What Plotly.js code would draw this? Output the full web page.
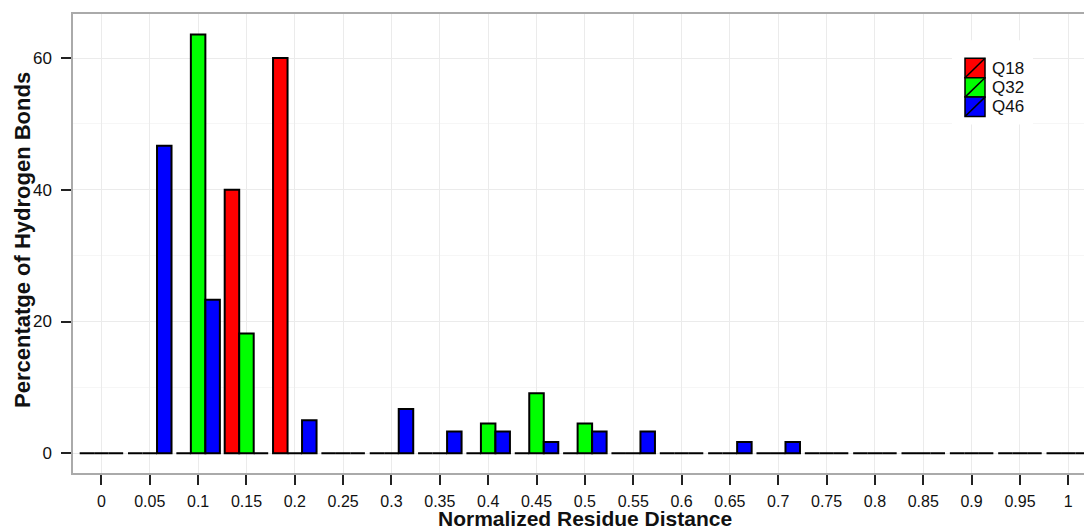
<!DOCTYPE html>
<html>
<head>
<meta charset="utf-8">
<script src="https://cdn.plot.ly/plotly-3.0.1.min.js"></script>
<style>
  html, body { margin: 0; padding: 0; background: #ffffff; }
  #chart { width: 1084px; height: 531px; }
</style>
</head>
<body>
<div id="chart"></div>
<script>
// Categories (normalized residue distance)
const categories = ['0','0.05','0.1','0.15','0.2','0.25','0.3','0.35','0.4','0.45','0.5',
                    '0.55','0.6','0.65','0.7','0.75','0.8','0.85','0.9','0.95','1'];
// Percentage of hydrogen bonds per series
const q18 = [0, 0, 0, 40, 60, 0, 0, 0, 0, 0, 0, 0, 0, 0, 0, 0, 0, 0, 0, 0, 0];
const q32 = [0, 0, 63.6, 18.2, 0, 0, 0, 0, 4.5, 9.1, 4.5, 0, 0, 0, 0, 0, 0, 0, 0, 0, 0];
const q46 = [0, 46.7, 23.3, 0, 5.0, 0, 6.7, 3.3, 3.3, 1.7, 3.3, 3.3, 0, 1.7, 1.7, 0, 0, 0, 0, 0, 0];
const seriesNames = ['Q18', 'Q32', 'Q46'];
const yTicks = [0, 20, 40, 60];
const xTitle = 'Normalized Residue Distance';
const yTitle = 'Percentatge of Hydrogen Bonds';

const colors = ['#ff0000', '#00ff00', '#0000ff'];
const seriesValues = [q18, q32, q46];

const traces = seriesValues.map((vals, i) => ({
  type: 'bar',
  name: seriesNames[i],
  x: categories,
  y: vals,
  marker: { color: colors[i], line: { color: '#000000', width: 2 } },
  showlegend: false,
  hoverinfo: 'x+y+name'
}));

const font = 'Liberation Sans, Arial, Helvetica, sans-serif';

// ---- page geometry (pixels) ----
const W = 1084, H = 531;
const M = { l: 73, r: 0, t: 14, b: 58 };
const plotW = W - M.l - M.r, plotH = H - M.t - M.b;
const px = v => (v - M.l) / plotW;        // pixel x -> paper x
const py = v => 1 - (v - M.t) / plotH;    // pixel y -> paper y

const shapes = [];
const annotations = [];

// ---- axis titles ----
annotations.push({
  xref: 'paper', yref: 'paper', x: px(585), y: py(531), xanchor: 'center', yanchor: 'bottom',
  showarrow: false, text: '<b>' + xTitle + '</b>', borderpad: 0,
  font: { family: font, size: 21, color: '#111111' }
});
annotations.push({
  xref: 'paper', yref: 'paper', x: px(23), y: py(240), xanchor: 'center', yanchor: 'middle',
  showarrow: false, textangle: -90, text: '<b>' + yTitle + '</b>',
  font: { family: font, size: 22, color: '#111111' }
});

// ---- hand-built legend (ggplot style key with diagonal) ----
const legend = { x: 965, y: 58.3, keyW: 20, keyH: 19.4, textGap: 5, boxPad: [13, 18, 48, 8] };
shapes.push({
  type: 'rect', xref: 'paper', yref: 'paper', layer: 'above',
  x0: px(legend.x - legend.boxPad[0]), x1: px(legend.x + legend.keyW + legend.boxPad[2]),
  y0: py(legend.y - legend.boxPad[1]), y1: py(legend.y + seriesNames.length * legend.keyH + legend.boxPad[3]),
  fillcolor: '#ffffff', line: { width: 0 }
});
seriesNames.forEach((name, i) => {
  const top = legend.y + i * legend.keyH, bot = top + legend.keyH;
  shapes.push({
    type: 'rect', xref: 'paper', yref: 'paper', layer: 'above',
    x0: px(legend.x), x1: px(legend.x + legend.keyW), y0: py(bot), y1: py(top),
    fillcolor: colors[i], line: { color: '#000000', width: 1.5 }
  });
  shapes.push({
    type: 'line', xref: 'paper', yref: 'paper', layer: 'above',
    x0: px(legend.x), x1: px(legend.x + legend.keyW), y0: py(bot), y1: py(top),
    line: { color: '#000000', width: 1.5 }
  });
  annotations.push({
    xref: 'paper', yref: 'paper', x: px(legend.x + legend.keyW + legend.textGap), y: py((top + bot) / 2),
    xanchor: 'left', yanchor: 'middle', showarrow: false, text: name,
    font: { family: font, size: 17, color: '#111111' }
  });
});

const layout = {
  width: W,
  height: H,
  margin: { l: M.l, r: M.r, t: M.t, b: M.b, pad: 0 },
  paper_bgcolor: '#ffffff',
  plot_bgcolor: '#ffffff',
  barmode: 'group',
  bargap: 0.1,
  bargroupgap: 0,
  font: { family: font, color: '#111111', size: 16 },
  showlegend: false,
  shapes: shapes,
  annotations: annotations,
  xaxis: {
    type: 'category',
    range: [-0.588, 20.325],
    showgrid: true,
    gridcolor: '#ebebeb',
    gridwidth: 1,
    zeroline: false,
    showline: true,
    mirror: true,
    linecolor: '#aaaaaa',
    linewidth: 1.5,
    ticks: 'outside',
    ticklen: 10,
    tickwidth: 2,
    tickcolor: '#222222',
    ticklabelstandoff: 3,
    tickfont: { family: font, size: 16, color: '#111111' },
    automargin: false,
    fixedrange: true
  },
  yaxis: {
    range: [-3.0, 66.7],
    tickvals: yTicks,
    ticktext: yTicks.map(String),
    showgrid: true,
    gridcolor: '#ebebeb',
    gridwidth: 1,
    minor: { tickvals: [10, 30, 50], showgrid: true, gridcolor: '#f6f6f6', gridwidth: 1, ticks: '' },
    zeroline: false,
    showline: true,
    mirror: false,
    linecolor: '#aaaaaa',
    linewidth: 1.5,
    ticks: 'outside',
    ticklen: 10,
    tickwidth: 2,
    tickcolor: '#222222',
    ticklabelstandoff: 6,
    tickfont: { family: font, size: 17, color: '#111111' },
    automargin: false,
    fixedrange: true
  }
};

Plotly.newPlot('chart', traces, layout, { displayModeBar: false });
</script>
</body>
</html>
